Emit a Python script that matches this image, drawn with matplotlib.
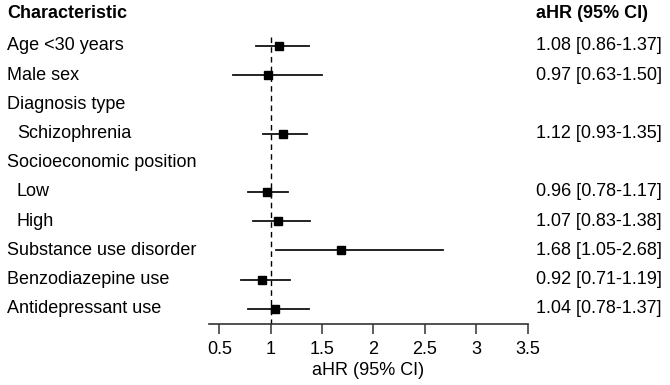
import matplotlib.pyplot as plt
import matplotlib.transforms as mtransforms

plt.rcParams['font.family'] = ['Liberation Sans', 'DejaVu Sans']

# rows of the table (header excluded), None = subgroup heading with no estimate
labels = ['Age <30 years', 'Male sex', 'Diagnosis type', 'Schizophrenia',
          'Socioeconomic position', 'Low', 'High', 'Substance use disorder',
          'Benzodiazepine use', 'Antidepressant use']
indent = [False, False, False, True, False, True, True, False, False, False]
ahr = [1.08, 0.97, None, 1.12, None, 0.96, 1.07, 1.68, 0.92, 1.04]
lower = [0.86, 0.63, None, 0.93, None, 0.78, 0.83, 1.05, 0.71, 0.78]
upper = [1.37, 1.50, None, 1.35, None, 1.17, 1.38, 2.68, 1.19, 1.37]
xticks = [0.5, 1, 1.5, 2, 2.5, 3, 3.5]

W, H = 670, 385
fig = plt.figure(figsize=(W / 100, H / 100), dpi=100)
ax_left, ax_right = 209, 527.7
ax_bottom = 324
ax = fig.add_axes([ax_left / W, (H - ax_bottom) / H, (ax_right - ax_left) / W, ax_bottom / H])

row_h = 29.2
first = 46          # pixel centre of first data row
header_y = (14 - first) / row_h + 1
ax.set_xlim(0.4, 3.5)
ax.set_ylim((ax_bottom - first) / row_h + 1, -first / row_h + 1)

for s in ['top', 'right', 'left']:
    ax.spines[s].set_visible(False)
ax.spines['bottom'].set_color('#333333')
ax.spines['bottom'].set_linewidth(1.2)
ax.set_yticks([])
ax.set_xticks(xticks)
ax.set_xticklabels([('%g' % t) for t in xticks])
ax.tick_params(axis='x', length=7, width=1.1, color='#333333', labelsize=13, pad=5)
ax.set_xlabel('aHR (95% CI)', fontsize=13, labelpad=3)

# reference line
ax.plot([1, 1], [(37 - first) / row_h + 1, (ax_bottom - first) / row_h + 1],
        color='black', lw=1, linestyle=(0, (4, 3)), clip_on=False)

trans = mtransforms.blended_transform_factory(fig.transFigure, ax.transData)
fs = 13

ax.text(7 / W, header_y, 'Characteristic', transform=trans, fontsize=fs,
        fontweight='bold', va='center', ha='left')
ax.text(536 / W, header_y, 'aHR (95% CI)', transform=trans, fontsize=fs,
        fontweight='bold', va='center', ha='left')

for i, lab in enumerate(labels):
    y = i + 1
    x0 = 17 if indent[i] else 7
    ax.text(x0 / W, y, lab, transform=trans, fontsize=fs, va='center', ha='left')
    if ahr[i] is not None:
        ax.plot([lower[i], upper[i]], [y, y], color='#111111', lw=1.3, clip_on=False)
        ax.plot(ahr[i], y, marker='s', color='black', markersize=5.5, clip_on=False)
        ax.text(536 / W, y, '%.2f [%.2f-%.2f]' % (ahr[i], lower[i], upper[i]),
                transform=trans, fontsize=fs, va='center', ha='left')

fig.savefig('out.png', dpi=100)
